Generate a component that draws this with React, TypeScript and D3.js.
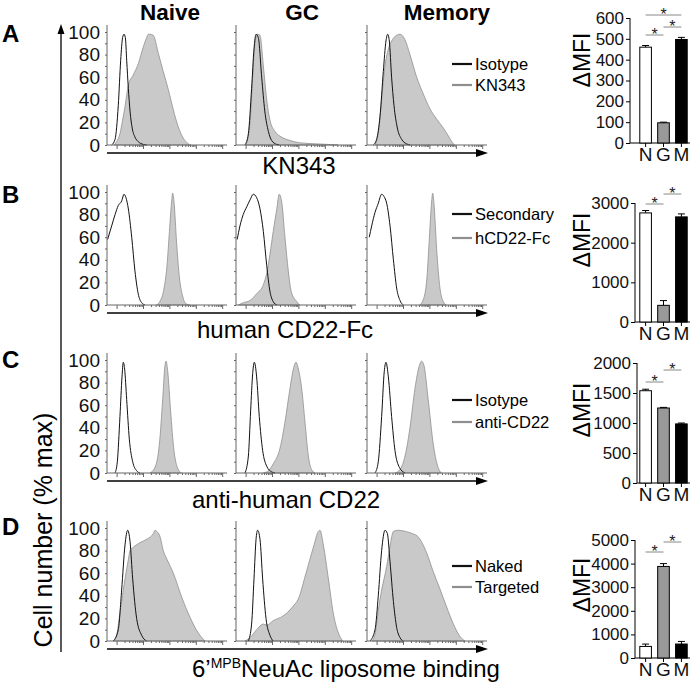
import React, { useEffect, useRef } from 'react';
import * as d3 from 'd3';

type Pt = [number, number];

// histogram traces: [position along the log fluorescence axis (0-100), % of max]
// row A - KN343 vs isotype
const kn343NaiveIso: Pt[] = [[3.9,0],[6.7,5],[9.4,35],[11.4,75],[13,95],[14.2,98],[15.3,95],[16.4,75],[17.8,50],[19.2,30],[21,15],[23.3,7],[26,3],[30.3,0.5],[33,0]];
const kn343NaiveStain: Pt[] = [[6,0],[8,3],[10.8,10],[13,22],[15,34],[17.8,53],[21.9,62],[26.1,72],[30.3,87],[33,95],[34.4,98],[36,98],[38.6,97],[42.8,81],[46.9,65],[51.1,49],[55.3,31],[59.4,16],[63.6,6],[67.8,1],[70,0]];
const kn343GcIso: Pt[] = [[7.5,0],[10.3,10],[13,50],[15,85],[16.7,98],[18.6,95],[21.4,60],[24,30],[27,12],[29.7,4],[34,0.5],[36,0]];
const kn343GcStain: Pt[] = [[8,0],[8.9,2],[11.7,20],[13.9,60],[15.8,90],[17.8,98],[20,97],[22.8,70],[25.6,40],[28.3,22],[32.5,12],[38,7],[45,4],[53,2],[67,1],[81,0.3],[85,0]];
const kn343MemIso: Pt[] = [[5.3,0],[8,5],[10.8,25],[13.6,65],[15.8,92],[17.2,98],[18.6,92],[20.5,60],[22.5,35],[25.3,15],[28.9,5],[33,1],[35.8,0]];
const kn343MemStain: Pt[] = [[6.7,0],[9.4,10],[12.2,40],[15,70],[17.8,85],[20.5,92],[23.3,96],[27.5,98],[31.7,93],[35.8,80],[41.4,60],[47,45],[52.5,32],[58,23],[63.6,15],[67.8,8],[72,1],[73,0]];

// row B - hCD22-Fc vs secondary only
const cd22FcNaiveSec: Pt[] = [[0.5,58],[3.9,70],[6.7,80],[9.4,88],[12.2,92],[14.2,98],[15.8,95],[17.8,85],[20.6,60],[23.3,30],[26,10],[28.9,2],[31.7,0]];
const cd22FcNaiveStain: Pt[] = [[41.4,0],[44,3],[47,12],[50,35],[52,65],[53.9,92],[54.7,99],[55.8,92],[58,55],[60.3,25],[63,8],[66,1],[69,0]];
const cd22FcGcSec: Pt[] = [[1,58],[3.3,70],[6,80],[9,87],[11.7,93],[14.4,98],[17.2,95],[20,85],[22.8,65],[25.6,35],[28.3,12],[31,3],[34,0]];
const cd22FcGcStain: Pt[] = [[2,0],[6,2],[11.7,4],[17.2,10],[22.8,18],[25.6,28],[28.3,45],[31,65],[34,85],[36,98],[38,92],[40.8,60],[43.6,30],[46,12],[50.6,3],[53,0]];
const cd22FcMemSec: Pt[] = [[1.9,60],[3.9,70],[6.7,82],[9.4,90],[12.2,98],[14.2,96],[16.4,90],[19.2,70],[22,40],[24.7,15],[27.5,4],[30.3,0]];
const cd22FcMemStain: Pt[] = [[44,0],[47,5],[50,25],[52,60],[53.9,92],[54.7,99],[55.8,90],[58,50],[60.8,15],[63.6,3],[66,0]];

// row C - anti-human CD22 vs isotype
const antiCd22NaiveIso: Pt[] = [[6.7,0],[8.6,10],[10.8,50],[12.5,85],[13.6,98],[14.7,92],[16.4,65],[18.6,30],[21.4,10],[24.7,2],[27.5,0]];
const antiCd22NaiveStain: Pt[] = [[35.8,0],[40,5],[43.6,25],[46.4,65],[48.3,95],[49.2,99],[50.6,90],[53,55],[55.8,20],[58.6,5],[62,0]];
const antiCd22GcIso: Pt[] = [[7.5,0],[10.3,15],[12.2,55],[13.9,88],[15.3,98],[17.2,85],[19.4,50],[22.2,20],[25.6,6],[29.7,1],[32.5,0]];
const antiCd22GcStain: Pt[] = [[22.8,0],[27,2],[31,8],[36.7,22],[40.8,45],[45,75],[47.8,92],[50,98],[52,92],[54.7,75],[57.5,45],[60.3,15],[63,3],[65.8,0]];
const antiCd22MemIso: Pt[] = [[6.7,0],[9.4,10],[12.2,50],[14.4,90],[15.8,98],[17.8,85],[20.5,50],[23.3,20],[27,5],[31.7,0]];
const antiCd22MemStain: Pt[] = [[23.3,0],[27.5,3],[31.7,15],[35.8,40],[40,75],[43.6,95],[45.5,99],[47.5,95],[51,65],[55.3,25],[58.6,7],[62,0]];

// row D - targeted vs naked liposomes
const lipoNaiveNaked: Pt[] = [[5.3,0],[9.4,10],[12.2,45],[15,85],[17.2,98],[19.2,88],[21.4,55],[24.7,20],[28.9,5],[33,0]];
const lipoNaiveTargeted: Pt[] = [[5.3,0],[8,5],[10.8,25],[15,55],[17.8,72],[19.2,80],[21.9,83],[27.5,87],[33,90],[38.6,95],[40,98],[41.4,97],[44,93],[46.9,80],[51,70],[55.3,60],[62.2,39],[69.2,21],[76.1,7],[81.7,0]];
const lipoGcNaked: Pt[] = [[10.3,0],[13,15],[15,55],[16.7,90],[18,98],[20,90],[22.2,55],[25,20],[28.3,5],[31,0]];
const lipoGcTargeted: Pt[] = [[7.5,0],[11.7,3],[17.2,10],[22.8,15],[25.6,14],[31,18],[39,22],[47,30],[53,40],[57,55],[61,70],[65,85],[68.6,97],[70,98],[72.8,85],[77,55],[81,25],[85,8],[89,0]];
const lipoMemNaked: Pt[] = [[2.5,0],[6.7,10],[9.4,40],[12.2,80],[15,98],[17,95],[19.2,70],[22,35],[24.7,12],[27.5,3],[30.3,0]];
const lipoMemTargeted: Pt[] = [[3.9,0],[6.7,6],[9.4,27],[12.2,45],[16.4,66],[19.2,84],[22,97],[26,98],[32,97],[38,95],[42.8,92],[49.7,78],[55.3,61],[60.8,46],[66.4,30],[72,15],[77.5,4],[81.7,0]];

// bar charts: delta MFI, mean and error
const groups = ['N', 'G', 'M'];
const kn343Mfi = [460, 97, 497];
const kn343Err = [8, 3, 10];
const cd22FcMfi = [2750, 420, 2650];
const cd22FcErr = [60, 120, 75];
const antiCd22Mfi = [1538, 1250, 985];
const antiCd22Err = [25, 10, 15];
const lipoMfi = [490, 3880, 592];
const lipoErr = [100, 120, 110];

const kn343Ticks = [0, 100, 200, 300, 400, 500, 600];
const cd22FcTicks = [0, 1000, 2000, 3000];
const antiCd22Ticks = [0, 500, 1000, 1500, 2000];
const lipoTicks = [0, 1000, 2000, 3000, 4000, 5000];
const histTicks = [0, 20, 40, 60, 80, 100];

const columnTitles = ['Naive', 'GC', 'Memory'];
const panelLetters = ['A', 'B', 'C', 'D'];
const legendLabels = [['Isotype', 'KN343'], ['Secondary', 'hCD22-Fc'], ['Isotype', 'anti-CD22'], ['Naked', 'Targeted']];
const sigPairs = [
  [['N', 'M'], ['N', 'G'], ['G', 'M']],
  [['N', 'G'], ['G', 'M']],
  [['N', 'G'], ['G', 'M']],
  [['N', 'G'], ['G', 'M']],
];

const rows = [
  { curves: [[kn343NaiveIso, kn343NaiveStain], [kn343GcIso, kn343GcStain], [kn343MemIso, kn343MemStain]], mfi: kn343Mfi, err: kn343Err, ticks: kn343Ticks },
  { curves: [[cd22FcNaiveSec, cd22FcNaiveStain], [cd22FcGcSec, cd22FcGcStain], [cd22FcMemSec, cd22FcMemStain]], mfi: cd22FcMfi, err: cd22FcErr, ticks: cd22FcTicks },
  { curves: [[antiCd22NaiveIso, antiCd22NaiveStain], [antiCd22GcIso, antiCd22GcStain], [antiCd22MemIso, antiCd22MemStain]], mfi: antiCd22Mfi, err: antiCd22Err, ticks: antiCd22Ticks },
  { curves: [[lipoNaiveNaked, lipoNaiveTargeted], [lipoGcNaked, lipoGcTargeted], [lipoMemNaked, lipoMemTargeted]], mfi: lipoMfi, err: lipoErr, ticks: lipoTicks },
];

// layout
const W = 693;
const H = 683;
const FONT = 'Arial, "Liberation Sans", Helvetica, sans-serif';
const histLeft = [107, 236, 367];
const HIST_W = 120;
const HIST_H = 113;
const rowTop = [32, 192, 360, 528];
const barAxisX = [630, 635, 637, 635];
const barTopY = [18, 203, 363, 540];
const barBotY = [143, 322, 483, 658];
const sigY = [[15, 35, 27], [204, 194], [382, 370], [552, 542]];
const mfiLabelY = [60, 240, 410, 585];
const legendY = [[64, 85], [214, 238], [400, 422], [566, 587]];
const axisLabelY = [174, 338, 508, 677];

const GRAY_FILL = '#c9c9c9';
const GRAY_LINE = '#8f8f8f';

const App: React.FC = () => {
  const svgRef = useRef<SVGSVGElement | null>(null);

  useEffect(() => {
    if (!svgRef.current) return;
    const svg = d3.select(svgRef.current);
    svg.selectAll('*').remove();
    const root = svg.append('g').style('font-family', FONT);

    // column titles
    columnTitles.forEach((t, i) => {
      root.append('text')
        .attr('x', histLeft[i] + HIST_W / 2 + (i === 2 ? 20 : i === 1 ? 6 : 3))
        .attr('y', 20)
        .attr('text-anchor', 'middle')
        .style('font-size', '22.5px')
        .style('font-weight', 'bold')
        .text(t);
    });

    // big vertical axis with arrow
    root.append('line').attr('x1', 61).attr('x2', 61).attr('y1', 30).attr('y2', 652)
      .attr('stroke', '#000').attr('stroke-width', 1.3);
    root.append('path').attr('d', 'M61,24 L57.5,34 L64.5,34 Z').attr('fill', '#000');
    root.append('text')
      .attr('transform', 'translate(52,530) rotate(-90)')
      .attr('text-anchor', 'middle')
      .style('font-size', '25px')
      .text('Cell number (% max)');

    const x = d3.scaleLinear().domain([0, 100]);
    const decadeTicks: number[] = [];
    for (let d = 0; d < 5; d++) {
      for (let k = 1; k < 10; k++) decadeTicks.push(8 + d * 22 + Math.log10(k) * 22);
    }

    rows.forEach((row, r) => {
      const top = rowTop[r];
      const y = d3.scaleLinear().domain([0, 100]).range([top + HIST_H, top]);

      root.append('text')
        .attr('x', 2).attr('y', [42, 203, 368, 535][r])
        .style('font-size', '24px').style('font-weight', 'bold')
        .text(panelLetters[r]);

      row.curves.forEach((pair, c) => {
        const left = histLeft[c];
        const xs = x.copy().range([left, left + HIST_W]);
        const g = root.append('g');

        const area = d3.area<Pt>().x(d => xs(d[0])).y0(y(0)).y1(d => y(d[1])).curve(d3.curveMonotoneX);
        const line = d3.line<Pt>().x(d => xs(d[0])).y(d => y(d[1])).curve(d3.curveMonotoneX);

        g.append('path').datum(pair[1]).attr('d', area)
          .attr('fill', GRAY_FILL).attr('stroke', GRAY_LINE).attr('stroke-width', 0.8);
        g.append('path').datum(pair[0]).attr('d', line)
          .attr('fill', 'none').attr('stroke', '#111').attr('stroke-width', 1);

        // y axis
        const yAxis = d3.axisLeft(y).tickValues(d3.range(0, 101, 10)).tickSize(2).tickFormat(() => '');
        const ya = g.append('g').attr('transform', `translate(${left},0)`).call(yAxis);
        ya.select('.domain').attr('d', `M0,${top - 7}V${top + HIST_H}`).attr('stroke', '#666');
        ya.selectAll('.tick line').attr('stroke', '#666');
        if (c === 0) {
          const lab = d3.axisLeft(y).tickValues(histTicks).tickSize(0).tickPadding(7);
          const la = g.append('g').attr('transform', `translate(${left},0)`).call(lab);
          la.select('.domain').remove();
          la.selectAll('text').style('font-size', '19px').style('font-family', FONT).attr('fill', '#111');
        }

        // x axis with log-looking ticks
        const xAxis = d3.axisBottom(xs).tickValues(decadeTicks.filter(v => v < 100)).tickSize(2).tickFormat(() => '');
        const xa = g.append('g').attr('transform', `translate(0,${top + HIST_H})`).call(xAxis);
        xa.select('.domain').attr('d', `M${left},0H${left + HIST_W}`).attr('stroke', '#666');
        xa.selectAll('.tick line').attr('stroke', '#666')
          .attr('y2', (d: any) => (Math.abs(((d - 8) / 22) % 1) < 0.01 ? 4 : 2));
      });

      // horizontal arrow under the row
      const ay = top + HIST_H + 8;
      root.append('line').attr('x1', 107).attr('x2', 478).attr('y1', ay).attr('y2', ay)
        .attr('stroke', '#000').attr('stroke-width', 1.3);
      root.append('path').attr('d', `M488,${ay} L476,${ay - 4} L476,${ay + 4} Z`).attr('fill', '#000');

      // axis label
      const lab = root.append('text').attr('y', axisLabelY[r]).style('font-size', '24px');
      if (r === 0) {
        lab.attr('x', 299).attr('text-anchor', 'middle').text('KN343');
      } else if (r === 1) {
        lab.attr('x', 197).text('human CD22-Fc');
      } else if (r === 2) {
        lab.attr('x', 192).text('anti-human CD22');
      } else {
        lab.attr('x', 192);
        lab.append('tspan').text('6\u2019');
        lab.append('tspan').attr('dy', -9).style('font-size', '14px').text('MPB');
        lab.append('tspan').attr('dy', 9).text('NeuAc liposome binding');
      }

      // legend
      legendLabels[r].forEach((t, k) => {
        const ly = legendY[r][k];
        root.append('line').attr('x1', 452).attr('x2', 472).attr('y1', ly).attr('y2', ly)
          .attr('stroke', k === 0 ? '#111' : GRAY_LINE).attr('stroke-width', 2.2);
        root.append('text').attr('x', 475).attr('y', ly).attr('dy', '0.36em')
          .style('font-size', '16.5px').text(t);
      });

      // bar chart
      const ax = barAxisX[r];
      const maxV = row.ticks[row.ticks.length - 1];
      const by = d3.scaleLinear().domain([0, maxV]).range([barBotY[r], barTopY[r]]);
      const bx = d3.scaleBand<string>().domain(groups).range([638, 689]).paddingInner(0.35).paddingOuter(0.1);
      const bg = root.append('g');

      const yA = d3.axisLeft(by).tickValues(row.ticks).tickSize(4).tickPadding(2).tickFormat(d3.format('d'));
      const yg = bg.append('g').attr('transform', `translate(${ax},0)`).call(yA);
      yg.select('.domain').attr('d', `M0,${by(maxV)}V${by(0)}`);
      yg.selectAll('text').style('font-size', '17px').style('font-family', FONT).attr('fill', '#111');

      const xA = d3.axisBottom(bx).tickSize(4).tickPadding(1);
      const xg = bg.append('g').attr('transform', `translate(0,${by(0)})`).call(xA);
      xg.select('.domain').attr('d', `M${ax},0H690`);
      xg.selectAll('text').style('font-size', '19px').style('font-family', FONT).attr('fill', '#111');

      const fills = ['#fff', '#999', '#000'];
      groups.forEach((gname, i) => {
        const cx = (bx(gname) as number) + bx.bandwidth() / 2;
        const v = row.mfi[i];
        const e = row.err[i];
        bg.append('line').attr('x1', cx).attr('x2', cx).attr('y1', by(v)).attr('y2', by(v + e))
          .attr('stroke', '#000').attr('stroke-width', 1);
        bg.append('line').attr('x1', cx - 3.5).attr('x2', cx + 3.5).attr('y1', by(v + e)).attr('y2', by(v + e))
          .attr('stroke', '#000').attr('stroke-width', 1);
        bg.append('rect')
          .attr('x', bx(gname) as number).attr('y', by(v))
          .attr('width', bx.bandwidth()).attr('height', by(0) - by(v))
          .attr('fill', fills[i]).attr('stroke', '#000').attr('stroke-width', 1);
      });

      sigPairs[r].forEach((p, k) => {
        const x1 = (bx(p[0]) as number) + bx.bandwidth() / 2;
        const x2 = (bx(p[1]) as number) + bx.bandwidth() / 2;
        const ly = sigY[r][k];
        bg.append('line').attr('x1', x1).attr('x2', x2).attr('y1', ly).attr('y2', ly)
          .attr('stroke', '#888').attr('stroke-width', 1);
        bg.append('text').attr('x', (x1 + x2) / 2).attr('y', ly + 5)
          .attr('text-anchor', 'middle').style('font-size', '16px').attr('fill', '#222').text('*');
      });

      root.append('text')
        .attr('transform', `translate(582,${mfiLabelY[r]}) rotate(-90)`)
        .attr('text-anchor', 'middle').attr('dy', '0.36em')
        .style('font-size', '23px')
        .text('\u0394MFI');
    });
  }, []);

  return (
    <svg ref={svgRef} width={W} height={H}
      style={{ position: 'absolute', left: 0, top: 0, background: '#fff' }} />
  );
};

export default App;
